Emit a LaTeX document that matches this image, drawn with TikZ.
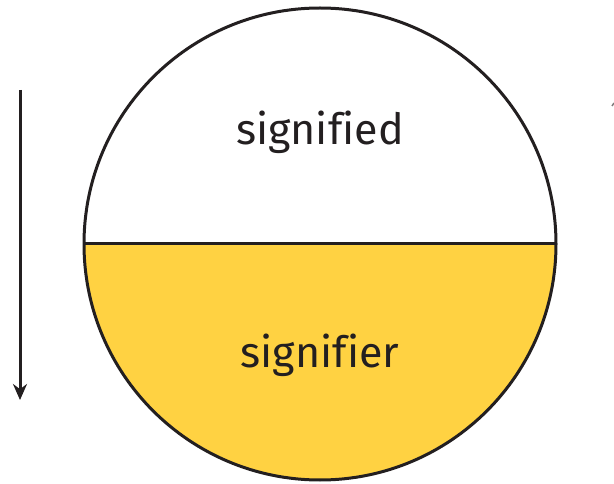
\documentclass[tikz,border=0pt]{standalone}
\usepackage{fontspec}
\setmainfont[Ligatures=NoCommon]{Fira Sans}
\usetikzlibrary{arrows.meta}
\definecolor{ink}{HTML}{231F20}
\definecolor{gold}{HTML}{FFD242}
\begin{document}
\begin{tikzpicture}[x=1pt,y=1pt,
  lbl/.style={font=\fontsize{43}{48}\selectfont, text=ink, inner sep=0pt},
  rim/.style={draw=ink, line width=3pt}]
\useasboundingbox (0,0) rectangle (614,483);
\coordinate (c) at (320,239);
\fill[gold] (84,239) arc[start angle=180,end angle=360,radius=236] -- cycle;
\draw[rim] (c) circle[radius=236];
\draw[rim] (84,239) -- (556,239);
\node[lbl] (top) at (320,351) {signified};
\node[lbl] (bot) at (320,128) {signifier};
\coordinate (a1) at (20,393);
\coordinate (a2) at (20,83);
\draw[ink, line width=3pt, -{Stealth[length=16pt,width=14pt]}] (a1) -- (a2);
\coordinate (r1) at (612,377);
\coordinate (r2) at (614,380);
\draw[ink!60, line width=1.5pt] (r1) -- (r2);
\end{tikzpicture}
\end{document}
